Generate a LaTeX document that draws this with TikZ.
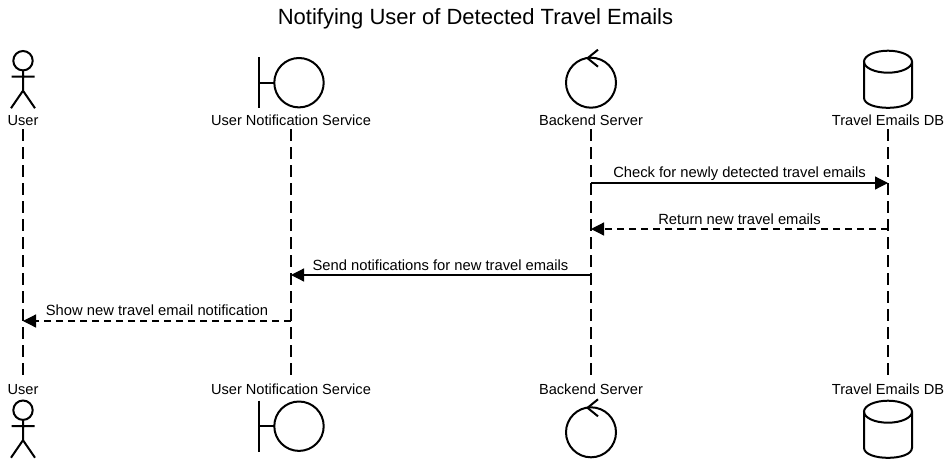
\documentclass[tikz,border=0pt]{standalone}
\usepackage{fontspec}
\setmainfont{Liberation Sans}
\usetikzlibrary{arrows.meta,calc}

\tikzset{
  lifeline/.style={black,line width=1.2pt,dash pattern=on 12pt off 6pt},
  msg/.style={black,line width=1.2pt,-{Triangle[length=13pt,width=13pt]}},
  reply/.style={msg,dash pattern=on 7pt off 5pt},
  partname/.style={font=\fontsize{14.6}{16}\selectfont,inner sep=0pt},
  msglabel/.style={font=\fontsize{14.75}{16}\selectfont,inner sep=0pt},
  glyph/.style={line width=2pt,black},
  pics/actorpic/.style={code={
    \draw[glyph] (0,-22) circle (9.7);
    \draw[glyph] (-11.5,-6) -- (11.5,-6) (0,-12) -- (0,8) (-12,25.5) -- (0,8) -- (12,25.5);
  }},
  pics/boundarypic/.style={code={
    \draw[glyph] (-32,-25.5) -- (-32,25.5) (-32,0) -- (-17,0);
    \draw[glyph] (8,0) circle (24.7);
  }},
  pics/controlpic/.style={code={
    \draw[glyph] (0,0) circle (25);
    \draw[glyph] (7,-33) -- (-3.5,-24.5) -- (7,-16);
  }},
  pics/dbpic/.style={code={
    \draw[glyph] (0,-21) ellipse [x radius=24,y radius=11];
    \draw[glyph] (-24,-21) -- (-24,15) .. controls (-24,28.5) and (24,28.5) .. (24,15) -- (24,-21);
  }},
}

\begin{document}
\begin{tikzpicture}[x=1pt,y=-1pt]
  \useasboundingbox (0,0) rectangle (951,469);
  \node[font=\fontsize{22}{26}\selectfont,inner sep=0pt] (title) at (475.5,19) {Notifying User of Detected Travel Emails};
  % Teilnehmer
  \foreach\x/\who/\txt in {23/user/User,291/notify/User Notification Service,591/backend/Backend Server,888/emaildb/Travel Emails DB} {
    \node[partname] (\who top) at (\x,120.5) {\txt};
    \node[partname] (\who bot) at (\x,389.5) {\txt};
    \draw[lifeline] (\who top.south |- 0,129) -- (\who bot.north |- 0,379);
  }
  \pic at (23,82.7) {actorpic};
  \pic at (23,432.2) {actorpic};
  \pic at (291,82.7) {boundarypic};
  \pic at (291,426.2) {boundarypic};
  \pic at (591,82.7) {controlpic};
  \pic at (591,432.3) {controlpic};
  \pic at (888,82.7) {dbpic};
  \pic at (888,432.7) {dbpic};
  % Nachrichten
  \coordinate (checkA) at (backendtop |- 0,183);
  \coordinate (checkB) at (emaildbtop |- 0,183);
  \coordinate (returnA) at (emaildbtop |- 0,229);
  \coordinate (returnB) at (backendtop |- 0,229);
  \coordinate (sendA) at (backendtop |- 0,275);
  \coordinate (sendB) at (notifytop |- 0,275);
  \coordinate (showA) at (notifytop |- 0,321);
  \coordinate (showB) at (usertop |- 0,321);
  \draw[msg] (checkA) -- (checkB);
  \draw[reply] (returnA) -- (returnB);
  \draw[msg] (sendA) -- (sendB);
  \draw[reply] (showA) -- (showB);
  \node[msglabel] (checklabel) at (739.5,173.5) {Check for newly detected travel emails};
  \node[msglabel] (returnlabel) at (739.5,219.5) {Return new travel emails};
  \node[msglabel] (sendlabel) at (440.5,265.5) {Send notifications for new travel emails};
  \node[msglabel] (showlabel) at (157,310.5) {Show new travel email notification};
\end{tikzpicture}
\end{document}
